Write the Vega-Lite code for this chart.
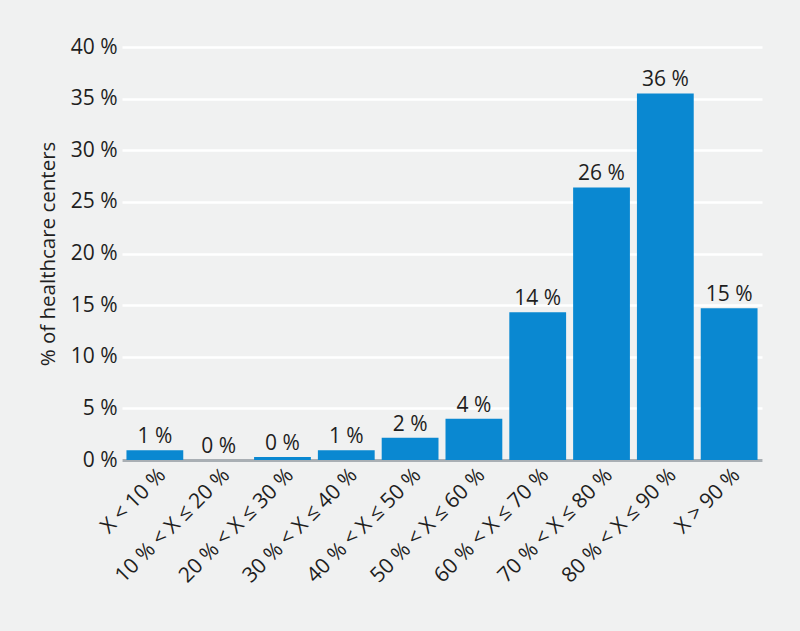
{
  "$schema": "https://vega.github.io/schema/vega-lite/v6.json",
  "autosize": {"type": "none"},
  "width": 640,
  "height": 413,
  "padding": {"left": 122, "top": 47, "right": 38, "bottom": 171},
  "background": "#f0f1f1",
  "config": {
    "view": {"stroke": null},
    "font": "Open Sans",
    "axis": {"labelFont": "Open Sans", "titleFont": "Open Sans", "labelColor": "#1e1e1e", "titleColor": "#1e1e1e"}
  },
  "data": {
    "values": [
      {"range": "X < 10 %", "value": 0.95, "label": "1 %"},
      {"range": "10 % < X ≤ 20 %", "value": 0, "label": "0 %"},
      {"range": "20 % < X ≤ 30 %", "value": 0.3, "label": "0 %"},
      {"range": "30 % < X ≤ 40 %", "value": 0.95, "label": "1 %"},
      {"range": "40 % < X ≤ 50 %", "value": 2.15, "label": "2 %"},
      {"range": "50 % < X ≤ 60 %", "value": 4.0, "label": "4 %"},
      {"range": "60 % < X ≤ 70 %", "value": 14.3, "label": "14 %"},
      {"range": "70 % < X ≤ 80 %", "value": 26.4, "label": "26 %"},
      {"range": "80 % < X ≤ 90 %", "value": 35.5, "label": "36 %"},
      {"range": "X > 90 %", "value": 14.7, "label": "15 %"}
    ]
  },
  "encoding": {
    "x": {
      "field": "range",
      "type": "nominal",
      "sort": null,
      "scale": {"paddingInner": 0.11, "paddingOuter": 0.07},
      "axis": {
        "title": null,
        "labelAngle": -45,
        "labelFontSize": 21,
        "labelPadding": 4,
        "ticks": false,
        "domainColor": "#a9afb4",
        "domainWidth": 3,
        "grid": false
      }
    },
    "y": {
      "field": "value",
      "type": "quantitative",
      "scale": {"domain": [0, 40]},
      "axis": {
        "title": "% of healthcare centers",
        "titleFontSize": 20.5,
        "titleFontWeight": "normal",
        "titlePadding": 12,
        "values": [0, 5, 10, 15, 20, 25, 30, 35, 40],
        "labelExpr": "datum.value + ' %'",
        "labelFontSize": 21,
        "labelPadding": 5,
        "ticks": false,
        "domain": false,
        "grid": true,
        "gridColor": "#ffffff",
        "gridWidth": 2.5
      }
    }
  },
  "layer": [
    {"mark": {"type": "bar", "color": "#0a88d1"}},
    {
      "mark": {"type": "text", "baseline": "bottom", "dy": -3, "fontSize": 21, "color": "#1e1e1e"},
      "encoding": {"text": {"field": "label"}}
    }
  ]
}
